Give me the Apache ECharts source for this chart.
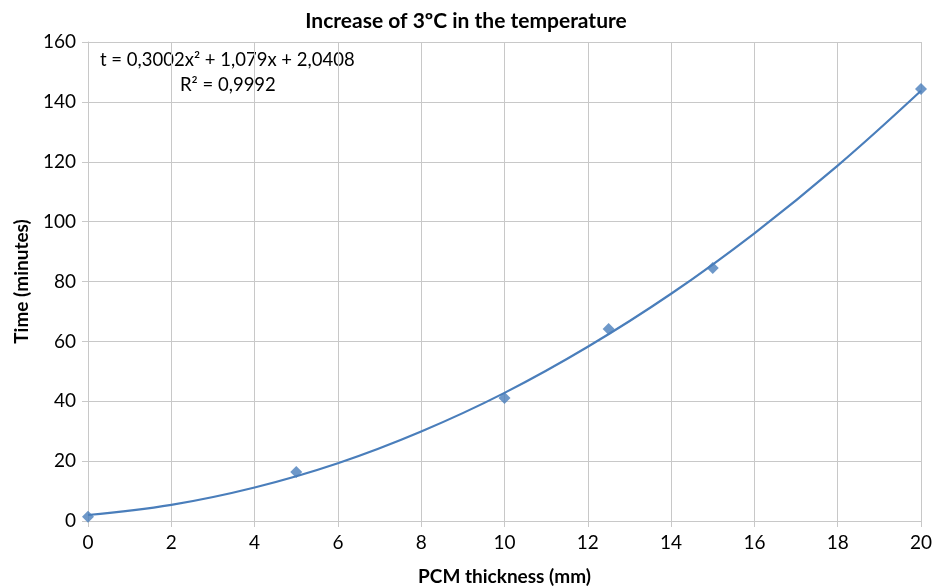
<!DOCTYPE html>
<html>
<head>
<meta charset="utf-8">
<script src="https://cdn.jsdelivr.net/npm/echarts@6/dist/echarts.min.js"></script>
<style>
  html, body { margin: 0; padding: 0; background: #fff; }
  #chart { width: 932px; height: 586px; }
</style>
</head>
<body>
<div id="chart"></div>
<script>
// measured points (PCM thickness mm, time minutes)
var thickness = [0, 5, 10, 12.5, 15, 20];
var timeMin = [1.4, 16.4, 41.1, 64.1, 84.5, 144.3];

// trend line
var trendX = [0, 2, 4, 6, 8, 10, 12, 14, 16, 18, 20];
var trendY = [2.0, 5.4, 11.2, 19.3, 29.9, 42.8, 58.2, 75.9, 96.1, 118.7, 143.7];

var xTicks = [0, 20, 2];
var yTicks = [0, 160, 20];

var equation = 't = 0,3002x\u00b2 + 1,079x + 2,0408';
var rSquared = 'R\u00b2 = 0,9992';

var font = 'Lato, "Open Sans", sans-serif';
var blue = '#4a7ebb';
var gridGrey = '#c8c8c8';

var myChart = echarts.init(document.getElementById('chart'));

var option = {
    animation: false,
    title: {
        text: 'Increase of 3\u00baC in the temperature',
        left: 'center',
        top: 6,
        textStyle: { fontFamily: font, fontSize: 21, fontWeight: 'bold', color: '#000' }
    },
    grid: { left: 88, right: 11, top: 42, bottom: 65, containLabel: false, outerBoundsMode: 'none' },
    xAxis: {
        type: 'value',
        min: xTicks[0], max: xTicks[1], interval: xTicks[2],
        name: 'PCM thickness (mm)',
        nameLocation: 'middle',
        nameGap: 46,
        nameTextStyle: { fontFamily: font, fontSize: 19, fontWeight: 'bold', color: '#000' },
        axisLine: { show: true, lineStyle: { color: gridGrey } },
        axisTick: { show: true, length: 6, lineStyle: { color: gridGrey } },
        axisLabel: { fontFamily: font, fontSize: 19, color: '#000', margin: 12 },
        splitLine: { show: true, lineStyle: { color: gridGrey } }
    },
    yAxis: {
        type: 'value',
        min: yTicks[0], max: yTicks[1], interval: yTicks[2],
        name: 'Time (minutes)',
        nameLocation: 'middle',
        nameGap: 57,
        nameTextStyle: { fontFamily: font, fontSize: 19, fontWeight: 'bold', color: '#000' },
        axisLine: { show: true, lineStyle: { color: gridGrey } },
        axisTick: { show: true, length: 6, lineStyle: { color: gridGrey } },
        axisLabel: { fontFamily: font, fontSize: 19, color: '#000', margin: 12 },
        splitLine: { show: true, lineStyle: { color: gridGrey } }
    },
    series: [
        {
            type: 'line',
            data: trendX.map(function (x, i) { return [x, trendY[i]]; }),
            smooth: 0.4,
            showSymbol: false,
            lineStyle: { color: blue, width: 2.2 },
            z: 2
        },
        {
            type: 'scatter',
            data: thickness.map(function (x, i) { return [x, timeMin[i]]; }),
            symbol: 'diamond',
            symbolSize: 12,
            itemStyle: { color: blue },
            z: 3
        }
    ],
    graphic: [
        {
            type: 'text', left: 100, top: 51,
            style: { text: equation, fontFamily: font, fontSize: 18.5, fill: '#000' }
        },
        {
            type: 'text', left: 180, top: 76,
            style: { text: rSquared, fontFamily: font, fontSize: 18.5, fill: '#000' }
        }
    ]
};

myChart.setOption(option);
</script>
</body>
</html>
